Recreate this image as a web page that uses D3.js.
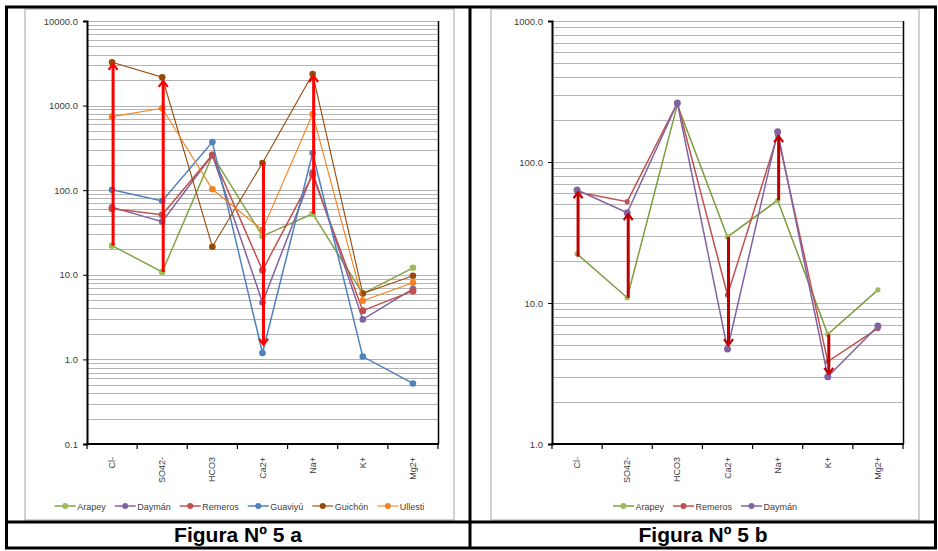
<!DOCTYPE html>
<html>
<head>
<meta charset="utf-8">
<script src="https://cdn.jsdelivr.net/npm/d3@7"></script>
<style>
  body { margin: 0; background: #fff; }
  svg { display: block; font-family: "Liberation Sans", Arial, sans-serif; }
</style>
</head>
<body>
<svg id="fig" width="938" height="551"></svg>
<script>
// Categories (ions) shared by both charts
const categories = ["Cl-", "SO42-", "HCO3", "Ca2+", "Na+", "K+", "Mg2+"];

// Figura 5 a values
const arapeyA  = [22.1, 10.8, 258, 28.7, 52.7, 6.0, 12.1];
const daymanA  = [62.7, 42.5, 261, 4.7, 162, 2.97, 6.8];
const remerosA = [60.5, 51.3, 261, 11.3, 151, 3.77, 6.45];
const guaviyuA = [101, 74.5, 371, 1.19, 275, 1.08, 0.52];
const guichonA = [3250, 2160, 21.5, 210, 2360, 6.0, 9.75];
const ullestiA = [740, 929, 102.5, 33.9, 796, 4.94, 8.07];

// Figura 5 b values
const arapeyB  = [22.3, 10.9, 255, 29.4, 53.5, 6.0, 12.4];
const remerosB = [61.2, 52.3, 262, 11.4, 155, 3.84, 6.6];
const daymanB  = [63.3, 43.7, 262, 4.72, 164, 3.0, 6.87];

// Arrows: [category, from, to]
const arrowsA = [["Cl-", 22.1, 3200], ["SO42-", 10.8, 2010], ["Ca2+", 210, 1.45], ["Na+", 52.7, 2300]];
const arrowsB = [["Cl-", 21.3, 62], ["SO42-", 10.9, 43.5], ["Ca2+", 29.4, 4.95], ["Na+", 53.5, 155], ["K+", 6.0, 3.09]];

// Y ticks
const ticksA = [0.1, 1, 10, 100, 1000, 10000];
const ticksB = [1, 10, 100, 1000];

const svg = d3.select("#fig");
const fmt = d3.format(".1f");

function drawChart(cfg) {
    const g = svg.append("g");

    // chart area frame
    g.append("rect")
        .attr("x", cfg.box[0]).attr("y", cfg.box[1])
        .attr("width", cfg.box[2] - cfg.box[0]).attr("height", cfg.box[3] - cfg.box[1])
        .attr("fill", "#fff").attr("stroke", "#a6a6a6");

    const x = d3.scaleBand().domain(categories).range([cfg.left, cfg.right]);
    const y = d3.scaleLog().domain(cfg.domain).range([444, 21]);

    // gridlines: every 1..9 of each decade
    const grid = [];
    for (let e = Math.log10(cfg.domain[0]); e < Math.log10(cfg.domain[1]); e++) {
        for (let k = 1; k <= 9; k++) grid.push(k * Math.pow(10, e));
    }
    grid.push(cfg.domain[1]);
    g.append("g").selectAll("line")
        .data(grid)
        .enter().append("line")
            .attr("x1", cfg.left).attr("x2", cfg.right)
            .attr("y1", d => Math.round(y(d)) + 0.5).attr("y2", d => Math.round(y(d)) + 0.5)
            .attr("stroke", "#b4b4b4").attr("stroke-width", 1);

    // right border of plot area
    g.append("line")
        .attr("x1", cfg.right + 0.5).attr("x2", cfg.right + 0.5)
        .attr("y1", 21).attr("y2", 444)
        .attr("stroke", "#000").attr("stroke-width", 1.5);

    // y axis
    const yAxis = g.append("g")
        .attr("transform", "translate(" + cfg.left + ",0)")
        .call(d3.axisLeft(y).tickValues(cfg.ticks).tickFormat(fmt).tickSize(4).tickPadding(5));
    yAxis.select(".domain").attr("stroke", "#000").attr("stroke-width", 2);
    yAxis.selectAll("line").attr("stroke", "#000");
    yAxis.selectAll("text").attr("font-size", "9.5px").attr("fill", "#404040")
        .attr("font-family", "Liberation Sans, Arial, sans-serif");

    // x axis with ticks between categories
    const xAxis = g.append("g").attr("transform", "translate(0,444)");
    xAxis.append("line")
        .attr("x1", cfg.left - 1).attr("x2", cfg.right + 1)
        .attr("stroke", "#000").attr("stroke-width", 2);
    xAxis.selectAll(".tk")
        .data(d3.range(categories.length + 1))
        .enter().append("line")
            .attr("x1", i => cfg.left + i * x.step()).attr("x2", i => cfg.left + i * x.step())
            .attr("y1", 0).attr("y2", 5)
            .attr("stroke", "#000").attr("stroke-width", 1.2);
    xAxis.selectAll(".lbl")
        .data(categories)
        .enter().append("text")
            .attr("transform", d => "translate(" + (x(d) + x.bandwidth() / 2 + 3) + ",13) rotate(-90)")
            .attr("text-anchor", "end")
            .attr("font-size", "9px").attr("fill", "#404040")
            .text(d => d);

    const cx = c => x(c) + x.bandwidth() / 2;
    const line = d3.line().x((d, i) => cx(categories[i])).y(d => y(d));

    // series
    cfg.series.forEach(s => {
        const sg = g.append("g");
        sg.append("path")
            .datum(s.values)
            .attr("d", line)
            .attr("fill", "none")
            .attr("stroke", s.color)
            .attr("stroke-width", s.width);
        sg.selectAll("circle")
            .data(s.values)
            .enter().append("circle")
                .attr("cx", (d, i) => cx(categories[i]))
                .attr("cy", d => y(d))
                .attr("r", s.r)
                .attr("fill", s.marker || s.color);
    });

    // arrows
    const ag = g.append("g");
    cfg.arrows.forEach(a => {
        const ax = cx(a[0]) + 1;
        const y0 = y(a[1]), y1 = y(a[2]);
        const dir = y1 < y0 ? 1 : -1;
        ag.append("line")
            .attr("x1", ax).attr("x2", ax)
            .attr("y1", y0).attr("y2", y1 + dir * 1)
            .attr("stroke", cfg.arrowColor).attr("stroke-width", 3);
        ag.append("path")
            .attr("d", "M" + (ax - 4.5) + "," + (y1 + dir * 7) + "L" + ax + "," + (y1 + dir * 1) + "L" + (ax + 4.5) + "," + (y1 + dir * 7))
            .attr("fill", "none")
            .attr("stroke", cfg.arrowColor).attr("stroke-width", 2.2);
    });

    // legend, centred in the chart box
    const leg = g.append("g").attr("transform", "translate(0,506)");
    let pos = 0;
    const items = [];
    cfg.series.forEach(s => {
        const it = leg.append("g");
        it.append("line").attr("x1", 0).attr("x2", 21).attr("stroke", s.color).attr("stroke-width", s.width);
        it.append("circle").attr("cx", 10.5).attr("r", 3).attr("fill", s.marker || s.color);
        const t = it.append("text").attr("x", 22.5).attr("y", 3.5)
            .attr("font-size", "9px").attr("fill", "#404040").text(s.name);
        const w = 22.5 + t.node().getComputedTextLength();
        items.push([it, pos]);
        pos += w + 9;
    });
    const total = pos - 9;
    const start = (cfg.box[0] + cfg.box[2]) / 2 - total / 2;
    items.forEach(([it, p]) => it.attr("transform", "translate(" + (start + p) + ",0)"));
}

drawChart({
    box: [25, 9, 454, 520],
    left: 87, right: 438,
    domain: [0.1, 10000],
    ticks: ticksA,
    arrowColor: "#ff0000",
    arrows: arrowsA,
    series: [
        {name: "Arapey",  values: arapeyA,  color: "#82a444", marker: "#9bbb59", width: 1.5, r: 3.3},
        {name: "Daymán",  values: daymanA,  color: "#8064a2", width: 1.5, r: 3.3},
        {name: "Remeros", values: remerosA, color: "#c0504d", width: 1.5, r: 3.5},
        {name: "Guaviyú", values: guaviyuA, color: "#4f81bd", width: 1.5, r: 3.3},
        {name: "Guichón", values: guichonA, color: "#984807", width: 1.1, r: 3.3},
        {name: "Ullesti", values: ullestiA, color: "#f58220", width: 1.1, r: 3.3}
    ]
});

drawChart({
    box: [491, 9, 919, 520],
    left: 552, right: 903,
    domain: [1, 1000],
    ticks: ticksB,
    arrowColor: "#c00000",
    arrows: arrowsB,
    series: [
        {name: "Arapey",  values: arapeyB,  color: "#7c9c3e", marker: "#9bbb59", width: 1.5, r: 2.6},
        {name: "Remeros", values: remerosB, color: "#c0504d", width: 1.5, r: 2.6},
        {name: "Daymán",  values: daymanB,  color: "#8064a2", width: 1.5, r: 3.5}
    ]
});

// table frame and captions
const frame = svg.append("g").attr("fill", "none").attr("stroke", "#000").attr("stroke-width", 3);
frame.append("rect").attr("x", 6.5).attr("y", 7).attr("width", 929).attr("height", 541);
frame.append("line").attr("x1", 470).attr("x2", 470).attr("y1", 7).attr("y2", 548);
frame.append("line").attr("x1", 6.5).attr("x2", 935.5).attr("y1", 522).attr("y2", 522);

const captions = ["Figura Nº 5 a", "Figura Nº 5 b"];
svg.selectAll(".cap")
    .data(captions)
    .enter().append("text")
        .attr("x", (d, i) => i === 0 ? 238 : 703)
        .attr("y", 542)
        .attr("text-anchor", "middle")
        .attr("font-size", "21px").attr("font-weight", "bold")
        .attr("fill", "#000")
        .text(d => d);
</script>
</body>
</html>
